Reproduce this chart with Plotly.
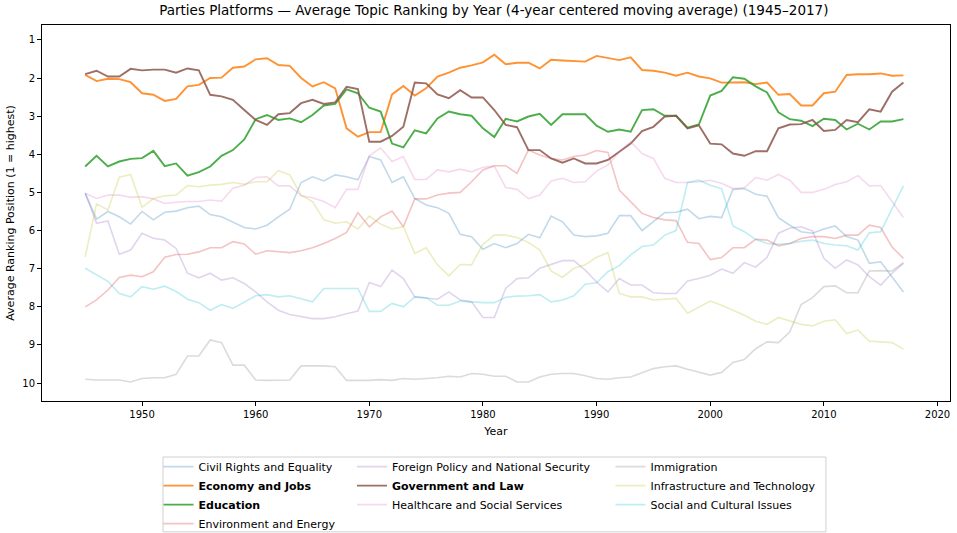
import plotly.graph_objects as go

years = list(range(1945, 2018))

civil_rights = [5.02, 5.70, 5.50, 5.64, 5.83, 5.50, 5.72, 5.52, 5.49, 5.40,
                5.36, 5.58, 5.64, 5.77, 5.92, 5.96, 5.86, 5.64, 5.44, 4.74,
                4.59, 4.70, 4.54, 4.59, 4.67, 4.06, 4.15, 4.74, 4.59, 5.16,
                5.33, 5.40, 5.55, 6.10, 6.16, 6.49, 6.34, 6.45, 6.34, 6.10,
                6.19, 5.62, 5.77, 6.12, 6.16, 6.14, 6.07, 5.61, 5.61, 6.00,
                5.77, 5.53, 5.52, 5.44, 5.69, 5.63, 5.66, 4.92, 4.90, 5.05,
                5.10, 5.66, 5.86, 6.03, 6.07, 5.96, 5.88, 6.16, 6.25, 6.86,
                6.82, 7.20, 7.61]
economy = [1.92, 2.08, 2.02, 2.03, 2.11, 2.40, 2.44, 2.60, 2.55, 2.22,
           2.18, 2.00, 1.99, 1.73, 1.70, 1.51, 1.48, 1.66, 1.68, 2.00,
           2.22, 2.11, 2.27, 3.32, 3.54, 3.42, 3.42, 2.43, 2.21, 2.46,
           2.27, 1.96, 1.86, 1.73, 1.67, 1.59, 1.39, 1.64, 1.60, 1.60,
           1.75, 1.52, 1.54, 1.55, 1.57, 1.42, 1.48, 1.53, 1.46, 1.79,
           1.81, 1.86, 1.94, 1.86, 1.96, 2.01, 2.12, 2.11, 2.11, 2.16,
           2.12, 2.44, 2.42, 2.72, 2.72, 2.40, 2.36, 1.92, 1.90, 1.90,
           1.88, 1.94, 1.93]
education = [4.32, 4.04, 4.32, 4.19, 4.12, 4.10, 3.91, 4.31, 4.24, 4.56,
             4.47, 4.32, 4.04, 3.89, 3.61, 3.08, 2.97, 3.10, 3.06, 3.16,
             2.97, 2.72, 2.68, 2.30, 2.40, 2.78, 2.88, 3.72, 3.82, 3.37,
             3.45, 3.06, 2.88, 2.95, 2.99, 3.32, 3.55, 3.07, 3.14, 3.01,
             2.94, 3.23, 2.95, 2.95, 2.95, 3.25, 3.41, 3.35, 3.41, 2.84,
             2.82, 2.99, 2.99, 3.30, 3.22, 2.46, 2.34, 1.98, 2.02, 2.22,
             2.38, 2.90, 3.08, 3.12, 3.26, 3.07, 3.10, 3.35, 3.20, 3.35,
             3.14, 3.14, 3.08]
environment = [8.00, 7.82, 7.56, 7.23, 7.17, 7.21, 7.08, 6.70, 6.63, 6.62,
               6.56, 6.45, 6.45, 6.29, 6.35, 6.62, 6.53, 6.56, 6.58, 6.53,
               6.45, 6.34, 6.21, 6.05, 5.53, 5.90, 5.64, 5.49, 5.90, 5.17,
               5.17, 5.07, 5.02, 5.00, 4.72, 4.41, 4.30, 4.30, 4.50, 3.89,
               4.02, 4.11, 4.15, 4.06, 4.02, 3.90, 3.95, 4.94, 5.24, 5.55,
               5.66, 5.72, 5.74, 6.31, 6.34, 6.76, 6.71, 6.45, 6.45, 6.23,
               6.25, 6.40, 6.34, 6.21, 6.16, 6.16, 6.21, 6.12, 6.12, 5.86,
               5.92, 6.43, 6.73]
foreign_policy = [5.02, 5.81, 5.75, 6.62, 6.51, 6.07, 6.20, 6.25, 6.47, 7.12,
                  7.24, 7.12, 7.30, 7.24, 7.39, 7.61, 7.87, 8.09, 8.20, 8.26,
                  8.31, 8.31, 8.26, 8.18, 8.11, 7.36, 7.47, 7.04, 7.26, 7.74,
                  7.76, 7.80, 7.61, 7.82, 7.87, 8.28, 8.28, 7.52, 7.26, 7.24,
                  6.99, 6.89, 6.79, 6.79, 7.04, 7.35, 7.61, 7.26, 7.43, 7.43,
                  7.63, 7.65, 7.65, 7.32, 7.26, 7.17, 7.01, 7.12, 6.84, 6.96,
                  6.70, 6.07, 5.94, 5.90, 6.01, 6.73, 6.99, 6.77, 6.90, 7.21,
                  7.43, 7.12, 6.86]
government = [1.90, 1.81, 1.96, 1.96, 1.76, 1.80, 1.78, 1.78, 1.86, 1.75,
              1.80, 2.44, 2.48, 2.57, 2.84, 3.10, 3.23, 2.95, 2.92, 2.66,
              2.57, 2.68, 2.64, 2.23, 2.29, 3.67, 3.67, 3.52, 3.28, 2.12,
              2.14, 2.43, 2.53, 2.32, 2.51, 2.51, 2.84, 3.23, 3.29, 3.89,
              3.89, 4.11, 4.22, 4.11, 4.24, 4.24, 4.15, 3.94, 3.72, 3.39,
              3.28, 3.01, 2.99, 3.32, 3.24, 3.72, 3.74, 3.98, 4.04, 3.92,
              3.92, 3.32, 3.22, 3.21, 3.10, 3.39, 3.36, 3.10, 3.16, 2.82,
              2.88, 2.36, 2.12]
healthcare = [5.02, 5.16, 5.07, 5.07, 5.13, 5.11, 5.17, 5.29, 5.26, 5.24,
              5.24, 5.20, 5.23, 4.89, 4.81, 4.61, 4.59, 4.83, 4.83, 5.09,
              5.14, 5.24, 5.40, 4.92, 4.92, 4.04, 3.83, 4.19, 4.06, 4.66,
              4.66, 4.41, 4.46, 4.39, 4.46, 4.34, 4.31, 4.87, 4.92, 5.16,
              5.07, 4.70, 4.63, 4.74, 4.72, 4.44, 4.28, 3.94, 3.67, 3.98,
              4.11, 4.63, 4.74, 4.74, 4.72, 4.68, 4.76, 4.90, 4.88, 4.61,
              4.68, 4.53, 4.68, 5.00, 5.00, 4.92, 4.79, 4.72, 4.56, 4.83,
              4.82, 5.24, 5.66]
immigration = [9.90, 9.92, 9.92, 9.92, 9.97, 9.88, 9.86, 9.86, 9.77, 9.29,
               9.29, 8.87, 8.94, 9.53, 9.53, 9.92, 9.93, 9.93, 9.92, 9.55,
               9.55, 9.55, 9.57, 9.93, 9.93, 9.93, 9.91, 9.93, 9.88, 9.90,
               9.88, 9.86, 9.82, 9.84, 9.75, 9.77, 9.82, 9.82, 9.97, 9.97,
               9.84, 9.77, 9.75, 9.75, 9.81, 9.88, 9.90, 9.86, 9.84, 9.73,
               9.62, 9.57, 9.55, 9.64, 9.71, 9.79, 9.72, 9.46, 9.38, 9.10,
               8.92, 8.94, 8.66, 7.94, 7.76, 7.47, 7.45, 7.63, 7.63, 7.06,
               7.05, 7.06, 6.84]
infrastructure = [6.69, 5.30, 5.46, 4.60, 4.53, 5.39, 5.16, 5.09, 5.07, 4.82,
                  4.85, 4.81, 4.79, 4.74, 4.79, 4.72, 4.72, 4.43, 4.54, 5.07,
                  5.24, 5.72, 5.81, 5.77, 5.96, 5.62, 5.83, 5.96, 5.90, 6.60,
                  6.45, 6.90, 7.19, 6.89, 6.90, 6.36, 6.12, 6.12, 6.18, 6.31,
                  6.51, 7.06, 7.23, 6.99, 6.90, 6.70, 6.58, 7.65, 7.74, 7.74,
                  7.82, 7.80, 7.78, 8.17, 8.00, 7.85, 7.96, 8.09, 8.22, 8.38,
                  8.46, 8.28, 8.38, 8.46, 8.50, 8.38, 8.34, 8.70, 8.61, 8.90,
                  8.92, 8.94, 9.11]
social = [6.99, 7.17, 7.33, 7.65, 7.74, 7.47, 7.54, 7.46, 7.60, 7.80,
          7.89, 8.09, 7.94, 8.04, 7.87, 7.71, 7.68, 7.74, 7.71, 7.80,
          7.87, 7.52, 7.52, 7.52, 7.52, 8.12, 8.12, 7.91, 8.00, 7.74,
          7.76, 7.96, 7.96, 7.85, 7.87, 7.89, 7.89, 7.75, 7.72, 7.71,
          7.68, 7.87, 7.82, 7.71, 7.41, 7.37, 7.08, 6.92, 6.64, 6.42,
          6.38, 6.12, 6.00, 4.74, 4.68, 4.81, 4.90, 5.88, 6.03, 6.23,
          6.34, 6.36, 6.34, 6.28, 6.25, 6.34, 6.38, 6.40, 6.51, 6.06,
          6.03, 5.42, 4.83]

topics = [
    ("Civil Rights and Equality", civil_rights, "31,119,180", False, "legend"),
    ("Economy and Jobs", economy, "255,127,14", True, "legend"),
    ("Education", education, "44,160,44", True, "legend"),
    ("Environment and Energy", environment, "214,39,40", False, "legend"),
    ("Foreign Policy and National Security", foreign_policy, "148,103,189", False, "legend2"),
    ("Government and Law", government, "140,86,75", True, "legend2"),
    ("Healthcare and Social Services", healthcare, "227,119,194", False, "legend2"),
    ("Immigration", immigration, "127,127,127", False, "legend3"),
    ("Infrastructure and Technology", infrastructure, "188,189,34", False, "legend3"),
    ("Social and Cultural Issues", social, "23,190,207", False, "legend3"),
]

fig = go.Figure()
for name, vals, rgb, hi, leg in topics:
    fig.add_trace(go.Scatter(
        x=years, y=vals, mode="lines",
        name=f"<b>{name}</b>" if hi else name,
        line=dict(color=f"rgba({rgb},{0.85 if hi else 0.28})", width=1.9 if hi else 1.6),
        legend=leg,
    ))

font = "DejaVu Sans"
leg_common = dict(xanchor="left", yanchor="top", y=-0.136, bgcolor="rgba(0,0,0,0)",
                  font=dict(family=font, size=11, color="black"),
                  itemwidth=30, tracegroupgap=0)

fig.update_layout(
    width=957, height=533,
    margin=dict(l=42, r=7, t=25, b=132, autoexpand=False),
    paper_bgcolor="white", plot_bgcolor="white",
    font=dict(family=font, size=10, color="black"),
    title=dict(text="Parties Platforms — Average Topic Ranking by Year (4-year centered moving average) (1945–2017)",
               x=0.516, xanchor="center", y=0.981, yanchor="middle",
               font=dict(family=font, size=13.5, color="black")),
    xaxis=dict(range=[1941.2, 2021.1], tickvals=[1950, 1960, 1970, 1980, 1990, 2000, 2010, 2020],
               showline=True, mirror=True, linecolor="black", linewidth=1,
               ticks="outside", ticklen=4, tickcolor="black", showgrid=False, zeroline=False,
               automargin=False, ticklabeloverflow="allow",
               title=dict(text="Year", font=dict(size=11), standoff=8)),
    yaxis=dict(range=[10.47, 0.61], tickvals=list(range(1, 11)),
               showline=True, mirror=True, linecolor="black", linewidth=1,
               ticks="outside", ticklen=4, tickcolor="black", showgrid=False, zeroline=False,
               automargin=False,
               title=dict(text="Average Ranking Position (1 = highest)", font=dict(size=11), standoff=5)),
    legend=dict(x=0.1283, **leg_common),
    legend2=dict(x=0.3414, **leg_common),
    legend3=dict(x=0.6261, **leg_common),
    shapes=[dict(type="rect", xref="paper", yref="paper", x0=0.1333, x1=0.8634, y0=-0.348, y1=-0.149,
                 line=dict(color="#d0d0d0", width=1), fillcolor="rgba(0,0,0,0)")],
)

# the page body has a default 8px margin; drop it so the figure sits at the window origin
fig.write_html("out.html", config={"displayModeBar": False},
               post_script="document.body.style.margin='0px';document.body.style.overflow='hidden';")
